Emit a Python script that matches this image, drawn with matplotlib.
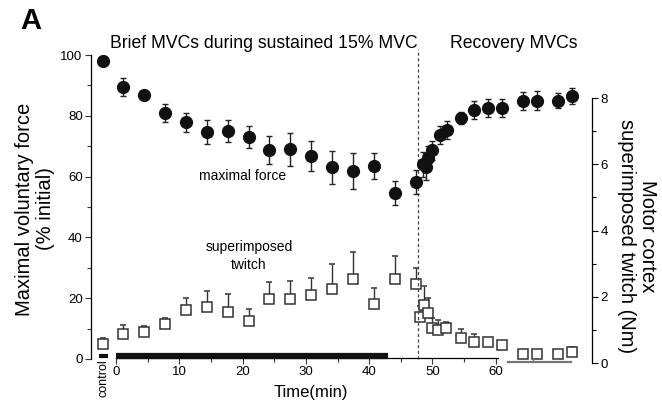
import matplotlib
matplotlib.use('Agg')
import matplotlib.pyplot as plt
from matplotlib.ticker import FixedLocator
import numpy as np

#---------- data ----------*
# time in min; -2 = control
t_force = [-2, 1.1, 4.4, 7.7, 11, 14.4, 17.7, 21, 24.2, 27.5,
           30.8, 34.1, 37.5, 40.8, 44.1, 47.4, 48.5, 48.9, 49.3, 49.9,
           51.2, 52.3, 54.5, 56.6, 58.8, 61, 64.3, 66.5, 69.8, 72]
force = [98, 89.5, 87, 81, 77.8, 74.6, 75, 73, 68.8, 69,
         66.8, 63, 61.8, 63.5, 54.6, 58.2, 64, 63.3, 66, 68.6,
         73.7, 75.3, 79.3, 81.9, 82.6, 82.6, 84.9, 85, 85, 86.5]
force_err = [0, 3, 1.5, 3, 3, 4, 3.5, 3.5, 4.5, 5.5,
             5, 5.5, 6, 4.4, 4, 4, 4, 4.5, 4, 3,
             3, 3, 2, 3, 3, 3, 3, 3, 2.5, 2.5]

t_twitch = [-2, 1.1, 4.4, 7.7, 11, 14.4, 17.7, 21, 24.2, 27.5,
            30.8, 34.1, 37.5, 40.8, 44.1, 47.4, 48, 48.7, 49.3, 50,
            50.9, 52.1, 54.5, 56.6, 58.8, 61, 64.3, 66.5, 69.8, 72]
twitch = [0.57, 0.87, 0.94, 1.17, 1.6, 1.7, 1.55, 1.27, 1.93, 1.93,
          2.05, 2.24, 2.54, 1.78, 2.54, 2.39, 1.4, 1.75, 1.52, 1.05,
          1.0, 1.05, 0.77, 0.64, 0.64, 0.55, 0.27, 0.27, 0.27, 0.33]
twitch_err = [0.18, 0.28, 0.18, 0.18, 0.36, 0.48, 0.54, 0.36, 0.51, 0.55,
              0.51, 0.75, 0.8, 0.48, 0.7, 0.48, 0.33, 0.57, 0.45, 0.3,
              0.3, 0.18, 0.27, 0.24, 0, 0, 0, 0, 0, 0.15]

sustained = (0, 43)        # sustained 15% MVC
control_bar = (-2.7, -1.2)
end_fatigue = 47.7         # dashed line
x_ticks = [0, 10, 20, 30, 40, 50, 60]
late_axis = (61.9, 71.9)   # broken axis segment
late_tick = 65.9

plt.rcParams['font.family'] = ['Liberation Sans', 'DejaVu Sans']

W, H = 662, 405
fig = plt.figure(figsize=(W / 100, H / 100), dpi=100)

def px(x, y):
    return x / W, 1 - y / H

ax = fig.add_axes([91 / W, (H - 365) / H, (592 - 91) / W, (365 - 55) / H])
ax2 = ax.twinx()
ax.set_zorder(ax2.get_zorder() + 1)
ax.patch.set_visible(False)

ax.set_xlim(-3.95, 75.2)
ax.set_ylim(-2, 100)
ax2.set_ylim(-0.06, 9.3)

# twitch (right axis): open squares, upper error only
tw_lo = np.zeros(len(twitch))
ax2.errorbar(t_twitch, twitch, yerr=[tw_lo, twitch_err], fmt='s', ms=7.5,
             mfc='white', mec='#333333', mew=1.1, ecolor='#333333',
             elinewidth=1, capsize=2.2, capthick=1, zorder=3)

# force (left axis): filled circles
ax.errorbar(t_force, force, yerr=force_err, fmt='o', ms=8.5,
            mfc='#111111', mec='#111111', ecolor='#222222',
            elinewidth=1, capsize=2.2, capthick=1, zorder=3)

ax.axvline(end_fatigue, ymin=0.02, ymax=1.02, color='#444444', lw=0.9,
           ls=(0, (2.5, 2)), clip_on=False, zorder=1)

# sustained contraction bar and control bar
ax.plot(sustained, [0.8, 0.8], color='#111111', lw=4.5, solid_capstyle='butt',
        clip_on=False, zorder=4)
ax.plot(control_bar, [1.0, 1.0], color='#111111', lw=3, solid_capstyle='butt',
        clip_on=False, zorder=4)

# spines
for a in (ax, ax2):
    a.spines['top'].set_visible(False)
ax.spines['right'].set_visible(False)
ax2.spines['left'].set_visible(False)
ax2.spines['bottom'].set_visible(False)
ax.spines['left'].set_bounds(0, 100)
ax.spines['bottom'].set_position(('data', 0.3))
ax.spines['bottom'].set_bounds(0, 60.3)
ax2.spines['right'].set_bounds(0, 8)
for s in ('left', 'bottom'):
    ax.spines[s].set_linewidth(0.9)
ax2.spines['right'].set_linewidth(0.9)

# broken axis segment for recovery points
ax.plot(late_axis, [-1.0, -1.0], color='#777777', lw=1.6, clip_on=False)
ax.plot([late_tick, late_tick], [-1.0, 0.4], color='#777777', lw=1, clip_on=False)

ax.set_xticks(x_ticks)
ax.xaxis.set_minor_locator(FixedLocator([5, 15, 25, 35, 45, 55]))
ax.set_yticks(np.arange(0, 101, 20))
ax.yaxis.set_minor_locator(FixedLocator([10, 30, 50, 70, 90]))
ax2.set_yticks(np.arange(0, 9, 2))
ax2.yaxis.set_minor_locator(FixedLocator([1, 3, 5, 7]))
ax.tick_params(axis='both', which='both', direction='out', width=0.8,
               labelsize=9.5, color='#333333')
ax.tick_params(axis='both', which='major', length=4, pad=2)
ax.tick_params(axis='both', which='minor', length=3)
ax2.tick_params(axis='y', which='both', direction='out', width=0.8,
                labelsize=9.5, pad=2)
ax2.tick_params(axis='y', which='major', length=4)
ax2.tick_params(axis='y', which='minor', length=3)

# control label under the axis
ax.text(-2, 0, 'control', rotation=90, ha='center', va='top',
        fontsize=9, clip_on=False)

# texts
fig.text(*px(20, 21), 'A', fontsize=21, fontweight='bold', va='center', ha='left')
fig.text(*px(110, 44), 'Brief MVCs during sustained 15% MVC', fontsize=12.7,
         va='center', ha='left')
fig.text(*px(450, 44), 'Recovery MVCs', fontsize=12.7, va='center', ha='left')
fig.text(*px(243, 176), 'maximal force', fontsize=10, ha='center', va='center')
fig.text(*px(249, 256), 'superimposed\ntwitch', fontsize=10, ha='center',
         va='center', linespacing=1.3)
fig.text(*px(311, 393), 'Time(min)', fontsize=12, ha='center', va='center')
fig.text(*px(35, 209), 'Maximal voluntary force\n(% initial)', fontsize=14.5,
         rotation=90, ha='center', va='center', linespacing=1.1)
fig.text(*px(637, 236), 'Motor cortex\nsuperimposed twitch (Nm)', fontsize=14.5,
         rotation=270, ha='center', va='center', linespacing=1.1)

fig.savefig('out.png', dpi=100)
